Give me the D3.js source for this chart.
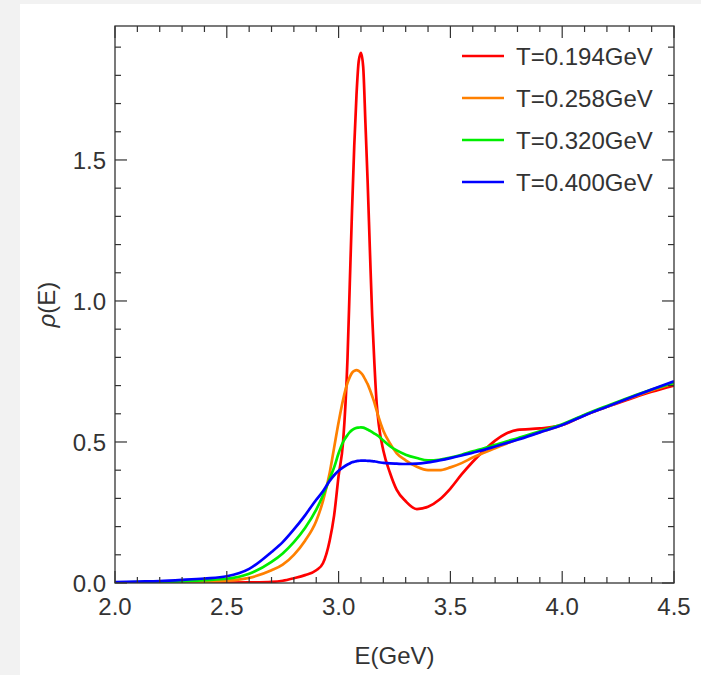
<!DOCTYPE html>
<html>
<head>
<meta charset="utf-8">
<script src="https://cdn.jsdelivr.net/npm/d3@7"></script>
<style>
  html, body { margin: 0; padding: 0; background: #f2f2f2; }
  #chart { position: absolute; left: 20px; top: 4px; width: 681px; height: 671px; background: #fff; }
  svg { display: block; font-family: "Liberation Sans", Arial, sans-serif; }
</style>
</head>
<body>
<div id="chart"></div>
<script>
// energy grid (GeV)
const energies = [2.0, 2.1, 2.2, 2.3, 2.4, 2.5, 2.6, 2.7, 2.75, 2.8, 2.85, 2.9, 2.93, 2.96, 2.98,
  3.0, 3.02, 3.04, 3.05, 3.06, 3.07, 3.08, 3.09, 3.1, 3.11, 3.12, 3.13, 3.14, 3.15, 3.16, 3.17, 3.18,
  3.2, 3.23, 3.26, 3.3, 3.35, 3.4, 3.45, 3.5, 3.55, 3.6, 3.65, 3.7, 3.75, 3.8, 3.9, 4.0, 4.1, 4.2, 4.3, 4.4, 4.5];

const rhoT194 = [0, 0, 0, 0, 0.0005, 0.001, 0.002, 0.004, 0.008, 0.017, 0.028, 0.045, 0.07, 0.15, 0.24,
  0.38, 0.5, 0.8, 1.06, 1.32, 1.55, 1.73, 1.85, 1.88, 1.83, 1.63, 1.42, 1.18, 0.95, 0.78, 0.64, 0.56,
  0.47, 0.39, 0.33, 0.29, 0.262, 0.27, 0.295, 0.335, 0.385, 0.43, 0.47, 0.505, 0.53, 0.543, 0.548, 0.56, 0.595, 0.625, 0.652, 0.678, 0.70];

const rhoT258 = [0.001, 0.001, 0.002, 0.003, 0.005, 0.008, 0.018, 0.045, 0.065, 0.1, 0.15, 0.22, 0.29, 0.39, 0.48,
  0.57, 0.65, 0.71, 0.73, 0.745, 0.752, 0.755, 0.752, 0.745, 0.735, 0.72, 0.705, 0.685, 0.663, 0.64, 0.612, 0.585,
  0.54, 0.495, 0.46, 0.435, 0.412, 0.4, 0.4, 0.41, 0.425, 0.445, 0.462, 0.478, 0.494, 0.51, 0.535, 0.56, 0.595, 0.625, 0.655, 0.683, 0.708];

const rhoT320 = [0.002, 0.003, 0.004, 0.006, 0.01, 0.015, 0.033, 0.075, 0.105, 0.145, 0.195, 0.26, 0.31, 0.37, 0.41,
  0.46, 0.5, 0.525, 0.535, 0.542, 0.547, 0.55, 0.551, 0.552, 0.551, 0.548, 0.544, 0.54, 0.535, 0.53, 0.525, 0.52,
  0.505, 0.485, 0.47, 0.455, 0.443, 0.435, 0.437, 0.445, 0.455, 0.467, 0.478, 0.49, 0.502, 0.513, 0.538, 0.563, 0.597, 0.628, 0.658, 0.686, 0.71];

const rhoT400 = [0.003, 0.005, 0.007, 0.011, 0.016, 0.024, 0.05, 0.11, 0.145, 0.19, 0.24, 0.295, 0.325, 0.362, 0.382,
  0.398, 0.41, 0.42, 0.424, 0.428, 0.43, 0.432, 0.433, 0.434, 0.434, 0.434, 0.433, 0.433, 0.432, 0.431, 0.43, 0.428,
  0.426, 0.424, 0.423, 0.422, 0.423, 0.428, 0.435, 0.443, 0.452, 0.462, 0.472, 0.484, 0.496, 0.508, 0.534, 0.56, 0.594, 0.625, 0.656, 0.686, 0.715];

const seriesNames = ['T=0.194GeV', 'T=0.258GeV', 'T=0.320GeV', 'T=0.400GeV'];
const seriesColors = ['#ff0000', '#ff8000', '#00ee00', '#0000ff'];
const xTickLabels = ['2.0', '2.5', '3.0', '3.5', '4.0', '4.5'];
const yTickLabels = ['0.0', '0.5', '1.0', '1.5'];

const series = [rhoT194, rhoT258, rhoT320, rhoT400].map((vals, i) => ({
  name: seriesNames[i],
  color: seriesColors[i],
  points: energies.map((e, j) => [e, vals[j]])
}));

const W = 681, H = 671;
// plot frame, in chart coordinates (page offset 20, 4)
const frame = { left: 95, right: 654, top: 22, bottom: 579 };

const svg = d3.select('#chart').append('svg').attr('width', W).attr('height', H);

const x = d3.scaleLinear().domain([2.0, 4.5]).range([frame.left, frame.right]);
const y = d3.scaleLinear().domain([0, 1.975]).range([frame.bottom, frame.top]);

const axisColor = '#333';
const fontSize = 24;
const majorLen = 12, minorLen = 6;

// clip for curves
svg.append('clipPath').attr('id', 'clip')
  .append('rect').attr('x', frame.left).attr('y', frame.top)
  .attr('width', frame.right - frame.left).attr('height', frame.bottom - frame.top);

const line = d3.line()
  .x(d => x(d[0]))
  .y(d => y(d[1]))
  .curve(d3.curveMonotoneX);

svg.append('g').attr('clip-path', 'url(#clip)')
  .selectAll('path').data(series).enter().append('path')
  .attr('d', d => line(d.points))
  .attr('fill', 'none')
  .attr('stroke', d => d.color)
  .attr('stroke-width', 2.7)
  .attr('stroke-linejoin', 'round');

// ticks
const xTicks = d3.range(20, 46).map(v => v / 10);
const yTicks = d3.range(0, 20).map(v => v / 10);
const isMajor = v => Math.abs(v * 2 - Math.round(v * 2)) < 1e-6;

const ticks = svg.append('g').attr('stroke', axisColor).attr('stroke-width', 1.2);
xTicks.forEach(v => {
  const len = isMajor(v) ? majorLen : minorLen;
  ticks.append('line').attr('x1', x(v)).attr('x2', x(v)).attr('y1', frame.bottom).attr('y2', frame.bottom - len);
  ticks.append('line').attr('x1', x(v)).attr('x2', x(v)).attr('y1', frame.top).attr('y2', frame.top + len);
});
yTicks.forEach(v => {
  const len = isMajor(v) ? majorLen : minorLen;
  ticks.append('line').attr('x1', frame.left).attr('x2', frame.left + len).attr('y1', y(v)).attr('y2', y(v));
  ticks.append('line').attr('x1', frame.right).attr('x2', frame.right - len).attr('y1', y(v)).attr('y2', y(v));
});

// frame
svg.append('rect')
  .attr('x', frame.left).attr('y', frame.top)
  .attr('width', frame.right - frame.left).attr('height', frame.bottom - frame.top)
  .attr('fill', 'none').attr('stroke', axisColor).attr('stroke-width', 1.3);

// tick labels
svg.append('g').selectAll('text').data(xTickLabels).enter().append('text')
  .attr('x', d => x(+d))
  .attr('y', frame.bottom + 32)
  .attr('text-anchor', 'middle')
  .attr('font-size', fontSize)
  .attr('fill', axisColor)
  .text(d => d);

svg.append('g').selectAll('text').data(yTickLabels).enter().append('text')
  .attr('x', frame.left - 9)
  .attr('y', d => y(+d))
  .attr('dy', '0.36em')
  .attr('text-anchor', 'end')
  .attr('font-size', fontSize)
  .attr('fill', axisColor)
  .text(d => d);

// axis titles
svg.append('text')
  .attr('x', (frame.left + frame.right) / 2)
  .attr('y', 660)
  .attr('text-anchor', 'middle')
  .attr('font-size', fontSize)
  .attr('fill', axisColor)
  .text('E(GeV)');

const yTitle = svg.append('text')
  .attr('transform', `translate(35, ${(frame.top + frame.bottom) / 2}) rotate(-90)`)
  .attr('text-anchor', 'middle')
  .attr('font-size', fontSize)
  .attr('fill', axisColor);
yTitle.append('tspan').attr('font-style', 'italic').text('ρ');
yTitle.append('tspan').text('(E)');

// legend
const legend = svg.append('g');
const legendRows = legend.selectAll('g').data(series).enter().append('g')
  .attr('transform', (d, i) => `translate(442, ${52 + i * 42})`);
legendRows.append('line')
  .attr('x1', 0).attr('x2', 42).attr('y1', 0).attr('y2', 0)
  .attr('stroke', d => d.color).attr('stroke-width', 2.7);
legendRows.append('text')
  .attr('x', 54).attr('y', 0).attr('dy', '0.36em')
  .attr('font-size', fontSize)
  .attr('fill', axisColor)
  .text(d => d.name);
</script>
</body>
</html>
